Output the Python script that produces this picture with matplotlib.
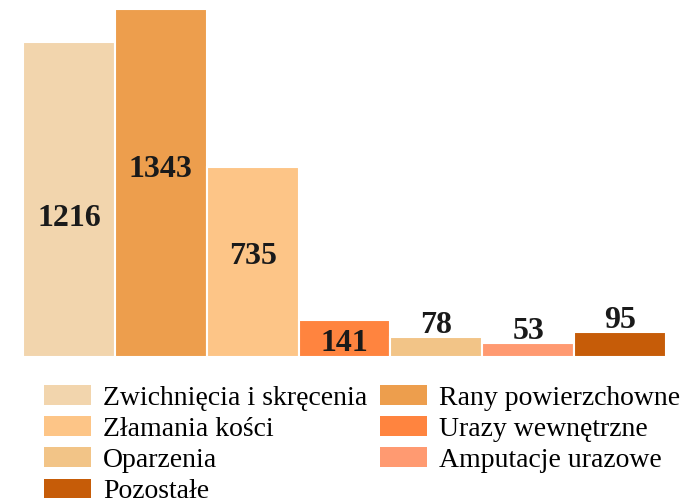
import matplotlib.pyplot as plt
from matplotlib.patches import Patch

categories = [
    "Zwichnięcia i skręcenia",
    "Rany powierzchowne",
    "Złamania kości",
    "Urazy wewnętrzne",
    "Oparzenia",
    "Amputacje urazowe",
    "Pozostałe",
]
values = [1216, 1343, 735, 141, 78, 53, 95]
colors = ["#F2D5AD", "#ED9E4D", "#FDC587", "#FF843F", "#F2C487", "#FF9A71", "#C65C08"]

plt.rcParams["font.family"] = ["Liberation Serif", "DejaVu Serif"]

fig = plt.figure(figsize=(6.91, 5.03), dpi=100)
ax = fig.add_axes([23 / 691, (503 - 357) / 503, 643 / 691, 348 / 503])

x = list(range(len(values)))
ax.bar(x, values, width=1.0, color=colors, edgecolor="white", linewidth=1.5)
ax.set_xlim(-0.5, len(values) - 0.5)
ax.set_ylim(0, max(values))
ax.axis("off")

# label placement: inside for tall bars, above for the small ones
inside_frac = [0.44, 0.54, 0.53, 0.38]
for i, v in enumerate(values):
    if i < len(inside_frac):
        ax.text(i, v * inside_frac[i], str(v), ha="center", va="center",
                fontsize=23, fontweight="bold", color="#1a1a1a")
    else:
        ax.annotate(str(v), (i, v), xytext=(0, -2), textcoords="offset points",
                    ha="center", va="bottom", fontsize=23, fontweight="bold",
                    color="#1a1a1a")

order = [0, 2, 4, 6, 1, 3, 5]
handles = [Patch(facecolor=colors[i], edgecolor="none") for i in order]
labels = [categories[i] for i in order]
fig.legend(handles, labels, ncol=2, loc="upper left",
           bbox_to_anchor=(44 / 691, 1 - 385 / 503), frameon=False,
           fontsize=20, handlelength=1.7, handleheight=0.72,
           handletextpad=0.43, columnspacing=0.45, labelspacing=0.2,
           borderpad=0, borderaxespad=0)

fig.savefig("out.png", dpi=100)
